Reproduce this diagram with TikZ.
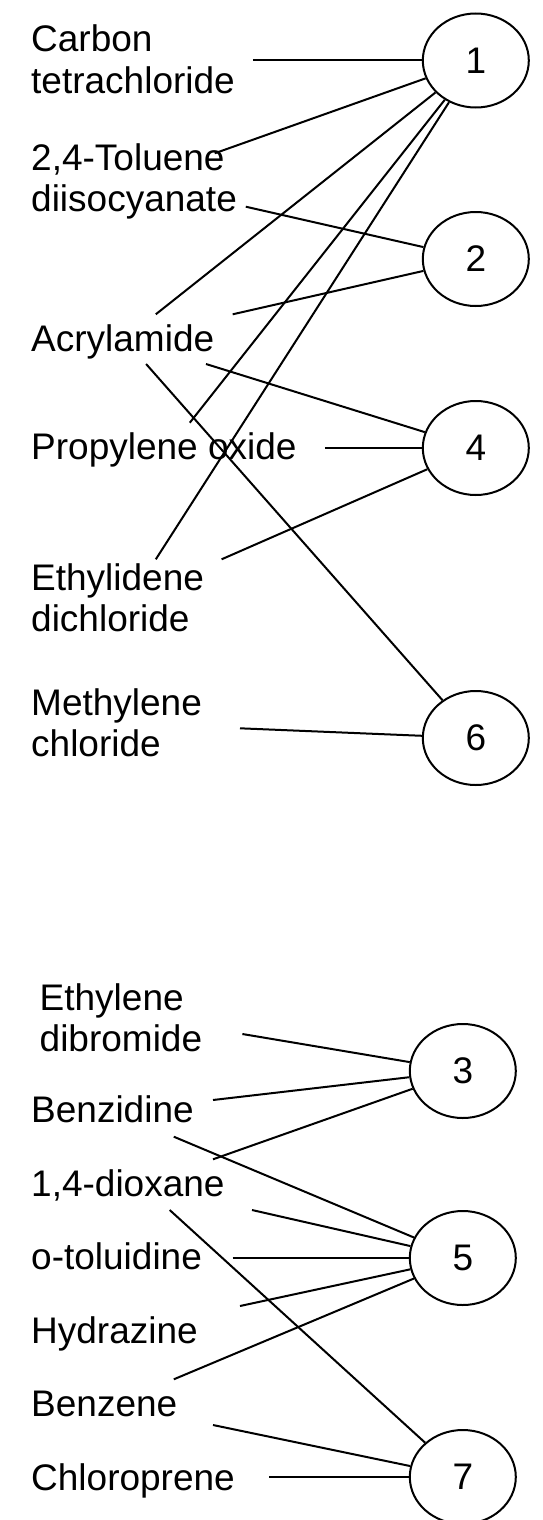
\documentclass[tikz,border=0pt]{standalone}
\usepackage{fontspec}
\setmainfont{Liberation Sans}
\usetikzlibrary{shapes.geometric}
% two stacked lines whose baseline is the first line's
\newcommand\pairlines[2]{\vtop{\hbox{#1}\hbox{#2}}}
\begin{document}
\begin{tikzpicture}[x=1pt,y=-1pt,
  lbl/.style={anchor=base west, inner sep=0pt, font=\fontsize{37}{41.5}\selectfont},
  grp/.style={draw, ellipse, line width=2pt, minimum width=106pt, minimum height=94pt,
              inner sep=0pt, font=\fontsize{37}{41.5}\selectfont},
  link/.style={line width=2pt}]
\useasboundingbox (0,0) rectangle (543,1520);

% ---- upper group: substances ----
\node[lbl] (ct)  at (31,51.7)  {\pairlines{Carbon}{tetrachloride}};
\node[lbl] (tdi) at (31,170)   {\pairlines{2,4-Toluene}{diisocyanate}};
\node[lbl] (acr) at (31,351.7) {Acrylamide};
\node[lbl] (po)  at (31,459.3) {Propylene oxide};
\node[lbl] (edc) at (31,590)   {\pairlines{Ethylidene}{dichloride}};
\node[lbl] (mc)  at (31,715)   {\pairlines{Methylene}{chloride}};

% ---- upper group: categories ----
\node[grp] (g1) at (475.8,60.5) {1};
\node[grp] (g2) at (475.8,259)  {2};
\node[grp] (g4) at (475.8,448)  {4};
\node[grp] (g6) at (475.8,738)  {6};

% ---- lower group: substances ----
\node[lbl] (edb) at (39.5,1010)  {\pairlines{Ethylene}{dibromide}};
\node[lbl] (bzd) at (31,1122.7)  {Benzidine};
\node[lbl] (dx)  at (31,1196.7)  {1,4-dioxane};
\node[lbl] (ot)  at (31,1269.3)  {o-toluidine};
\node[lbl] (hz)  at (31,1343.3)  {Hydrazine};
\node[lbl] (bz)  at (31,1416.7)  {Benzene};
\node[lbl] (cp)  at (31,1490)    {Chloroprene};

% ---- lower group: categories ----
\node[grp] (g3) at (462.8,1071) {3};
\node[grp] (g5) at (462.8,1258) {5};
\node[grp] (g7) at (462.8,1477) {7};

% ---- free ends of the connectors, beside the labels ----
\coordinate (ct-a)  at (252.8,60.5);
\coordinate (tdi-a) at (214.7,153.3);
\coordinate (tdi-b) at (245.8,206.7);
\coordinate (acr-a) at (155.8,314.3);
\coordinate (acr-b) at (232.7,314.3);
\coordinate (acr-c) at (206,364);
\coordinate (acr-d) at (146.1,364);
\coordinate (po-a)  at (189.8,422.7);
\coordinate (po-b)  at (324.8,448);
\coordinate (edc-a) at (155.8,559.3);
\coordinate (edc-b) at (221.6,559.3);
\coordinate (mc-a)  at (240,728.3);

\coordinate (edb-a) at (242.4,1034);
\coordinate (bzd-a) at (213,1100);
\coordinate (bzd-b) at (173.8,1136.7);
\coordinate (dx-a)  at (213,1159.3);
\coordinate (dx-b)  at (252,1210);
\coordinate (dx-c)  at (169.7,1210);
\coordinate (ot-a)  at (232.7,1258);
\coordinate (hz-a)  at (240,1306);
\coordinate (bz-a)  at (173.8,1379.3);
\coordinate (bz-b)  at (213,1425);
\coordinate (cp-a)  at (269.4,1477);

% ---- connectors ----
\draw[link] (ct-a)  -- (g1);
\draw[link] (tdi-a) -- (g1);
\draw[link] (acr-a) -- (g1);
\draw[link] (po-a)  -- (g1);
\draw[link] (edc-a) -- (g1);
\draw[link] (tdi-b) -- (g2);
\draw[link] (acr-b) -- (g2);
\draw[link] (acr-c) -- (g4);
\draw[link] (po-b)  -- (g4);
\draw[link] (edc-b) -- (g4);
\draw[link] (acr-d) -- (g6);
\draw[link] (mc-a)  -- (g6);

\draw[link] (edb-a) -- (g3);
\draw[link] (bzd-a) -- (g3);
\draw[link] (dx-a)  -- (g3);
\draw[link] (bzd-b) -- (g5);
\draw[link] (dx-b)  -- (g5);
\draw[link] (ot-a)  -- (g5);
\draw[link] (hz-a)  -- (g5);
\draw[link] (bz-a)  -- (g5);
\draw[link] (dx-c)  -- (g7);
\draw[link] (bz-b)  -- (g7);
\draw[link] (cp-a)  -- (g7);
\end{tikzpicture}
\end{document}
